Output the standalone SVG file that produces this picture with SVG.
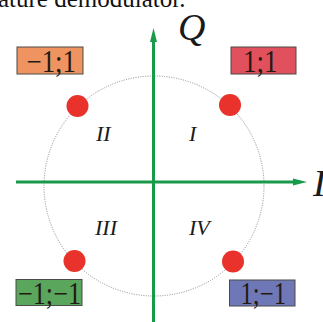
<svg xmlns="http://www.w3.org/2000/svg" width="323" height="322" viewBox="0 0 323 322">
<style>
.axis{stroke:#189a4a;stroke-width:3;fill:none}
.head{fill:#189a4a}
.circ{fill:none;stroke:#8a8a8a;stroke-width:1;stroke-dasharray:1 1.4}
.dot{fill:#e8322b}
.box{stroke:#4a4a4a;stroke-width:1}
.lbl{font-family:"Liberation Serif",serif;font-size:31px;fill:#231a14}
.quad{font-family:"Liberation Serif",serif;font-style:italic;font-size:22px;fill:#1a1a1a}
.ax{font-family:"Liberation Serif",serif;font-style:italic;font-size:38px;fill:#1a1a1a}
.cap{font-family:"Liberation Serif",serif;font-size:25px;fill:#111}
</style>
<rect width="323" height="322" fill="#ffffff"/>
<text class="cap" x="-2" y="7">ature demodulator.</text>
<circle class="circ" cx="154" cy="186" r="110"/>
<g id="connectors">
<line class="axis" x1="16" y1="182" x2="294" y2="182"/>
<polygon class="head" points="293,178.5 307,182 293,185.5"/>
<line class="axis" x1="153.5" y1="322" x2="153.5" y2="41"/>
<polygon class="head" points="150,42 153.5,28 157,42"/>
</g>
<text class="ax" x="178" y="40">Q</text>
<text class="ax" x="313" y="196">I</text>
<g id="q2"><text class="quad" x="96" y="141">II</text></g>
<g id="q1"><text class="quad" x="189" y="141">I</text></g>
<g id="q3"><text class="quad" x="95" y="235">III</text></g>
<g id="q4"><text class="quad" x="189" y="235">IV</text></g>
<g id="p2"><circle class="dot" cx="77.5" cy="106" r="11"/></g>
<g id="p1"><circle class="dot" cx="230" cy="105" r="11"/></g>
<g id="p3"><circle class="dot" cx="74.5" cy="261" r="11"/></g>
<g id="p4"><circle class="dot" cx="233" cy="261.5" r="11"/></g>
<g id="b2"><rect class="box" x="17" y="47" width="66" height="27" fill="#ef9460"/><text class="lbl" x="26.5" y="71.5" textLength="49.5" lengthAdjust="spacingAndGlyphs">−1;1</text></g>
<g id="b1"><rect class="box" x="231" y="47" width="65" height="27" fill="#e0515d"/><text class="lbl" x="243" y="71.5" textLength="34.5" lengthAdjust="spacingAndGlyphs">1;1</text></g>
<g id="b3"><rect class="box" x="16" y="279.5" width="66" height="26" fill="#5aa65c"/><text class="lbl" x="18" y="304" textLength="63" lengthAdjust="spacingAndGlyphs">−1;−1</text></g>
<g id="b4"><rect class="box" x="229.5" y="280" width="65.5" height="26" fill="#6f78b6"/><text class="lbl" x="240.5" y="304" textLength="45.5" lengthAdjust="spacingAndGlyphs">1;−1</text></g>
</svg>
